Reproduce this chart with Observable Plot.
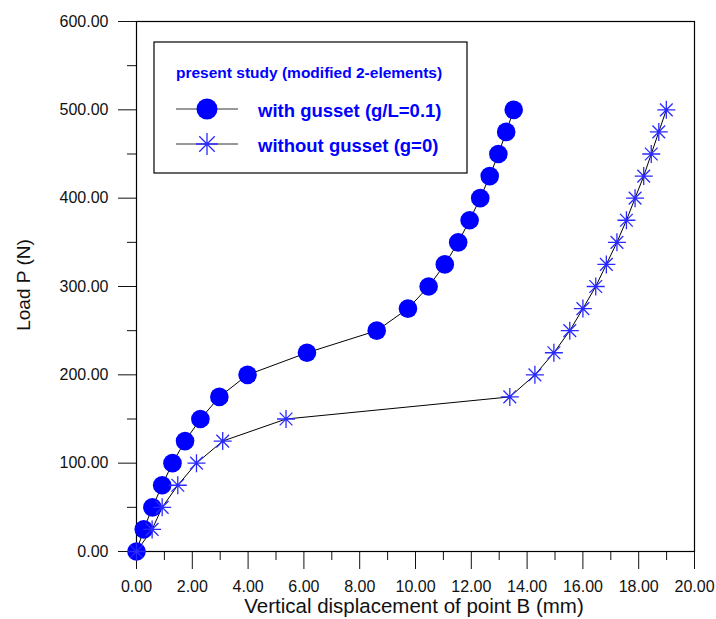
<!DOCTYPE html>
<html>
<head>
<meta charset="utf-8">
<script src="https://cdn.jsdelivr.net/npm/d3@7"></script>
<script src="https://cdn.jsdelivr.net/npm/@observablehq/plot@0.6"></script>
<style>
  html, body { margin: 0; padding: 0; background: #fff; }
  #chart { position: relative; width: 716px; height: 619px; }
  svg { font-family: "Liberation Sans", Arial, sans-serif; }
</style>
</head>
<body>
<div id="chart"></div>
<script>
// ---- data ----
const loads = [0, 25, 50, 75, 100, 125, 150, 175, 200, 225, 250, 275, 300, 325, 350, 375, 400, 425, 450, 475, 500];
const dispWithGusset = [0, 0.26, 0.57, 0.92, 1.29, 1.74, 2.29, 2.97, 3.98, 6.11, 8.61, 9.73, 10.47, 11.05, 11.53, 11.94, 12.32, 12.66, 12.97, 13.25, 13.52];
const dispWithoutGusset = [0, 0.56, 0.92, 1.48, 2.15, 3.09, 5.36, 13.38, 14.28, 14.96, 15.53, 16.0, 16.46, 16.84, 17.22, 17.56, 17.87, 18.18, 18.45, 18.72, 18.99];
const xMajor = [0, 2, 4, 6, 8, 10, 12, 14, 16, 18, 20];
const xMinor = [1, 3, 5, 7, 9, 11, 13, 15, 17, 19];
const yMajor = [0, 100, 200, 300, 400, 500, 600];
const yMinor = [50, 150, 250, 350, 450, 550];
const seriesNames = ["with gusset (g/L=0.1)", "without gusset (g=0)"];
const legendTitle = "present study (modified 2-elements)";
const xLabel = "Vertical displacement of point B (mm)";
const yLabel = "Load P (N)";

const withData = loads.map((p, i) => ({x: dispWithGusset[i], y: p}));
const withoutData = loads.map((p, i) => ({x: dispWithoutGusset[i], y: p}));

// 8-spoke asterisk symbol
const starSymbol = {
  draw(context, size) {
    const r = Math.sqrt(size / Math.PI);
    const d = r * Math.SQRT1_2;
    context.moveTo(-r, 0); context.lineTo(r, 0);
    context.moveTo(0, -r); context.lineTo(0, r);
    context.moveTo(-d, -d); context.lineTo(d, d);
    context.moveTo(-d, d); context.lineTo(d, -d);
  }
};

const BLUE = "#0000ff";
const STAR = "#2a2aff";
const fmt = d => d.toFixed(2);

const plot = Plot.plot({
  width: 716,
  height: 619,
  marginLeft: 136,
  marginRight: 22,
  marginTop: 21,
  marginBottom: 68,
  x: {domain: [0, 20]},
  y: {domain: [0, 600]},
  style: {fontFamily: '"Liberation Sans", Arial, sans-serif', fontSize: "16px", color: "#111"},
  marks: [
    Plot.axisX({ticks: xMajor, tickSize: 18, tickPadding: 11, tickFormat: fmt, label: null, fontSize: 16}),
    Plot.axisX({ticks: xMinor, tickSize: 9, tickFormat: () => "", label: null}),
    Plot.axisY({ticks: yMajor, tickSize: 18, tickPadding: 10, tickFormat: fmt, label: null, fontSize: 16}),
    Plot.axisY({ticks: yMinor, tickSize: 9, tickFormat: () => "", label: null}),
    Plot.frame({stroke: "#000", strokeWidth: 1.2}),
    Plot.line(withData, {x: "x", y: "y", stroke: "#000", strokeWidth: 1}),
    Plot.line(withoutData, {x: "x", y: "y", stroke: "#000", strokeWidth: 1}),
    Plot.dot(withData, {x: "x", y: "y", r: 9.3, fill: BLUE, stroke: "none"}),
    Plot.dot(withoutData, {x: "x", y: "y", r: 9, symbol: starSymbol, stroke: STAR, strokeWidth: 1.3, fill: "none"})
  ]
});

document.getElementById("chart").appendChild(plot);

// ---- axis titles and legend ----
const svg = d3.select(plot);
svg.append("text")
  .attr("x", 414).attr("y", 613)
  .attr("text-anchor", "middle")
  .attr("font-size", 20.5).attr("fill", "#111")
  .text(xLabel);
svg.append("text")
  .attr("transform", "translate(30,285) rotate(-90)")
  .attr("text-anchor", "middle")
  .attr("font-size", 19).attr("fill", "#111")
  .text(yLabel);

const lg = svg.append("g").attr("text-anchor", "start");
lg.append("rect")
  .attr("x", 154).attr("y", 42).attr("width", 313).attr("height", 131)
  .attr("fill", "#fff").attr("stroke", "#000").attr("stroke-width", 1.2);
lg.append("text")
  .attr("x", 176).attr("y", 78)
  .attr("text-anchor", "start")
  .attr("font-size", 15.5).attr("font-weight", "bold").attr("fill", BLUE)
  .text(legendTitle);
const rows = [{y: 109}, {y: 144}];
rows.forEach((row, i) => {
  lg.append("line")
    .attr("x1", 176).attr("x2", 238).attr("y1", row.y).attr("y2", row.y)
    .attr("stroke", "#333").attr("stroke-width", 1);
  if (i === 0) {
    lg.append("circle").attr("cx", 207).attr("cy", row.y).attr("r", 10.5).attr("fill", BLUE);
  } else {
    const p = d3.path();
    starSymbol.draw(p, 11 * 11 * Math.PI);
    lg.append("path").attr("d", p.toString())
      .attr("transform", `translate(207,${row.y})`)
      .attr("stroke", STAR).attr("stroke-width", 1.3).attr("fill", "none");
  }
  lg.append("text")
    .attr("x", 258).attr("y", row.y + 8)
    .attr("text-anchor", "start")
    .attr("font-size", 18.5).attr("font-weight", "bold").attr("fill", BLUE)
    .text(seriesNames[i]);
});
</script>
</body>
</html>
